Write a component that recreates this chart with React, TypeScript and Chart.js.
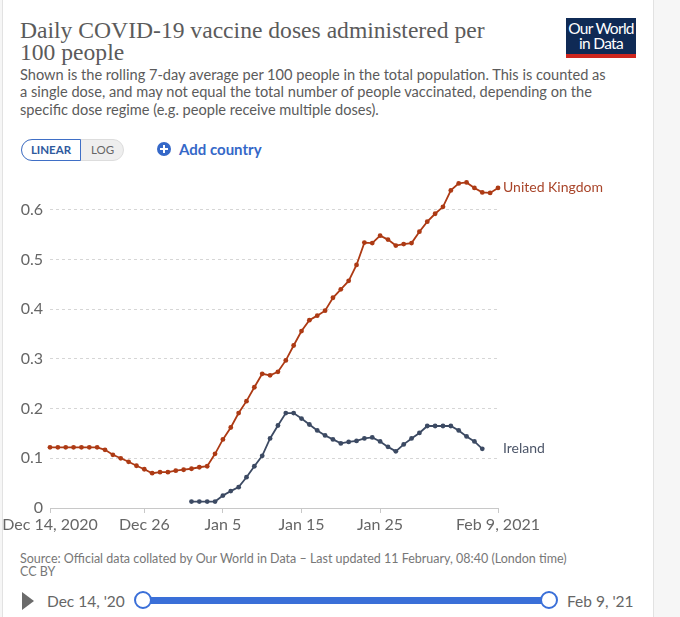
import React, { useEffect, useRef } from "react";
import { Chart, registerables } from "chart.js";

Chart.register(...registerables);

const dates = [
  "Dec 14", "Dec 15", "Dec 16", "Dec 17", "Dec 18", "Dec 19", "Dec 20", "Dec 21", "Dec 22", "Dec 23",
  "Dec 24", "Dec 25", "Dec 26", "Dec 27", "Dec 28", "Dec 29", "Dec 30", "Dec 31",
  "Jan 1", "Jan 2", "Jan 3", "Jan 4", "Jan 5", "Jan 6", "Jan 7", "Jan 8", "Jan 9", "Jan 10",
  "Jan 11", "Jan 12", "Jan 13", "Jan 14", "Jan 15", "Jan 16", "Jan 17", "Jan 18", "Jan 19", "Jan 20",
  "Jan 21", "Jan 22", "Jan 23", "Jan 24", "Jan 25", "Jan 26", "Jan 27", "Jan 28", "Jan 29", "Jan 30", "Jan 31",
  "Feb 1", "Feb 2", "Feb 3", "Feb 4", "Feb 5", "Feb 6", "Feb 7", "Feb 8", "Feb 9",
];

const ukValues = [
  0.122, 0.122, 0.122, 0.122, 0.122, 0.122, 0.122, 0.117, 0.107, 0.1,
  0.093, 0.085, 0.078, 0.07, 0.072, 0.072, 0.075, 0.077,
  0.079, 0.082, 0.084, 0.109, 0.138, 0.162, 0.191, 0.215, 0.243, 0.27,
  0.267, 0.274, 0.297, 0.327, 0.356, 0.378, 0.387, 0.397, 0.423, 0.44,
  0.457, 0.489, 0.534, 0.533, 0.548, 0.54, 0.528, 0.531, 0.533, 0.556, 0.576,
  0.592, 0.606, 0.639, 0.653, 0.655, 0.644, 0.635, 0.634, 0.644,
];

const irelandValues = [
  null, null, null, null, null, null, null, null, null, null,
  null, null, null, null, null, null, null, null,
  0.013, 0.013, 0.013, 0.013, 0.025, 0.034, 0.042, 0.062, 0.084, 0.105,
  0.14, 0.166, 0.191, 0.191, 0.18, 0.168, 0.156, 0.146, 0.138, 0.13,
  0.133, 0.135, 0.14, 0.142, 0.134, 0.123, 0.114, 0.128, 0.14, 0.151, 0.165,
  0.165, 0.165, 0.165, 0.156, 0.144, 0.134, 0.119, null, null,
];

const seriesNames = ["United Kingdom", "Ireland"];
const seriesColors = ["#ad3a14", "#3c4a63"];
const labelColors = ["#a9452a", "#4d5669"];

const xTickDates = ["Dec 14", "Dec 26", "Jan 5", "Jan 15", "Jan 25", "Feb 9"];
const xTickLabels = ["Dec 14, 2020", "Dec 26", "Jan 5", "Jan 15", "Jan 25", "Feb 9, 2021"];
const yTicks = [0, 0.1, 0.2, 0.3, 0.4, 0.5, 0.6];
const yTickLabels = ["0", "0.1", "0.2", "0.3", "0.4", "0.5", "0.6"];

const FONT = "Lato, 'Noto Sans', sans-serif";

const endLabels = {
  id: "endLabels",
  afterDatasetsDraw(chart: any) {
    const ctx = chart.ctx;
    const area = chart.chartArea;
    ctx.save();
    ctx.font = "14px " + FONT;
    ctx.textBaseline = "middle";
    ctx.textAlign = "left";
    chart.data.datasets.forEach((ds: any, i: number) => {
      const meta = chart.getDatasetMeta(i);
      let idx = -1;
      for (let k = ds.data.length - 1; k >= 0; k--) {
        if (ds.data[k] !== null) { idx = k; break; }
      }
      if (idx < 0) return;
      const pt = meta.data[idx];
      ctx.fillStyle = labelColors[i];
      ctx.fillText(seriesNames[i], area.right + 5, pt.y);
    });
    ctx.restore();
  },
};

function LineChart() {
  const ref = useRef<HTMLCanvasElement | null>(null);
  useEffect(() => {
    if (!ref.current) return;
    const chart = new Chart(ref.current, {
      type: "line",
      data: {
        labels: dates,
        datasets: [
          {
            label: seriesNames[0],
            data: ukValues,
            borderColor: seriesColors[0],
            backgroundColor: seriesColors[0],
            borderWidth: 1.8,
            pointRadius: 2.4,
            pointBorderWidth: 0,
            tension: 0,
          },
          {
            label: seriesNames[1],
            data: irelandValues,
            borderColor: seriesColors[1],
            backgroundColor: seriesColors[1],
            borderWidth: 1.8,
            pointRadius: 2.4,
            pointBorderWidth: 0,
            tension: 0,
            spanGaps: false,
          },
        ],
      },
      options: {
        animation: false,
        responsive: false,
        maintainAspectRatio: false,
        layout: { padding: { top: 5, right: 155, left: 0, bottom: 0 } },
        plugins: { legend: { display: false }, tooltip: { enabled: false } },
        scales: {
          x: {
            type: "category",
            offset: false,
            grid: {
              drawOnChartArea: false,
              drawTicks: true,
              tickLength: 5,
              tickColor: "#c8c8c8",
            },
            border: { display: true, color: "#c8c8c8", width: 1 },
            afterBuildTicks(scale: any) {
              scale.ticks = xTickDates.map((d) => ({ value: dates.indexOf(d) }));
            },
            ticks: {
              autoSkip: false,
              maxRotation: 0,
              padding: 2,
              color: "#666",
              font: { family: FONT, size: 16 },
              callback(value: any) {
                const d = dates[value as number];
                const k = xTickDates.indexOf(d);
                return k >= 0 ? xTickLabels[k] : "";
              },
            },
            afterFit(scale: any) {
              scale.height = 30;
              scale.paddingLeft = 0;
              scale.paddingRight = 0;
            },
          },
          y: {
            type: "linear",
            min: 0,
            max: 0.67,
            afterBuildTicks(scale: any) {
              scale.ticks = yTicks.map((v) => ({ value: v }));
            },
            grid: {
              drawTicks: false,
              color: (c: any) => (c.tick && c.tick.value === 0 ? "rgba(0,0,0,0)" : "#d6d6d6"),
              lineWidth: 1,
            },
            border: { display: false, dash: [3, 3] },
            ticks: {
              padding: 7,
              color: "#666",
              font: { family: FONT, size: 16 },
              callback(value: any) {
                const k = yTicks.indexOf(value as number);
                return k >= 0 ? yTickLabels[k] : "";
              },
            },
            afterFit(scale: any) {
              scale.width = 50;
              scale.paddingTop = 0;
              scale.paddingBottom = 0;
            },
          },
        },
      },
      plugins: [endLabels],
    });
    return () => chart.destroy();
  }, []);
  return <canvas ref={ref} width={653} height={368} style={{ position: "absolute", left: 0, top: 170, width: 653, height: 368 }} />;
}

export default function App() {
  return (
    <div style={{ position: "absolute", left: 0, top: 0, width: 680, height: 617, background: "#f6f6f6", overflow: "hidden", fontFamily: FONT }}>
      <div style={{ position: "absolute", left: 2, top: -2, width: 650, height: 640, background: "#fff", border: "1px solid #e2e2e2" }} />
      <div style={{ position: "absolute", left: 20, top: 19, width: 520, fontFamily: "'Liberation Serif', 'DejaVu Serif', serif", fontSize: 23.6, lineHeight: "22px", color: "#5b5b5b" }}>
        Daily COVID-19 vaccine doses administered per<br />100 people
      </div>
      <div style={{ position: "absolute", left: 566, top: 18, width: 70, height: 40, background: "#0f2a55", color: "#fff", textAlign: "center", fontSize: 15.5, lineHeight: "15px", paddingTop: 3, boxSizing: "border-box", letterSpacing: -0.7 }}>
        Our World<br />in Data
        <div style={{ position: "absolute", left: 0, bottom: 0, width: 70, height: 4, background: "#ce261e" }} />
      </div>
      <div style={{ position: "absolute", left: 20, top: 66, fontSize: 14.6, lineHeight: "17.4px", color: "#5b5b5b", whiteSpace: "nowrap" }}>
        Shown is the rolling 7-day average per 100 people in the total population. This is counted as<br />
        a single dose, and may not equal the total number of people vaccinated, depending on the<br />
        specific dose regime (e.g. people receive multiple doses).
      </div>
      <div style={{ position: "absolute", left: 21, top: 139, width: 103, height: 22, borderRadius: 11, background: "#eee", border: "1px solid #ddd", boxSizing: "border-box" }} />
      <div style={{ position: "absolute", left: 21, top: 139, width: 60, height: 22, borderRadius: "11px 0 0 11px", background: "#fff", border: "1.5px solid #3f6fc6", boxSizing: "border-box", color: "#2f5a9e", fontSize: 11.5, fontWeight: 700, lineHeight: "19px", textAlign: "center" }}>
        LINEAR
      </div>
      <div style={{ position: "absolute", left: 81, top: 139, width: 43, height: 22, color: "#666", fontSize: 11.5, lineHeight: "22px", textAlign: "center" }}>
        LOG
      </div>
      <div style={{ position: "absolute", left: 157, top: 142, width: 14, height: 14, borderRadius: 7, background: "#3568c8" }}>
        <div style={{ position: "absolute", left: 3, top: 6, width: 8, height: 2, background: "#fff" }} />
        <div style={{ position: "absolute", left: 6, top: 3, width: 2, height: 8, background: "#fff" }} />
      </div>
      <div style={{ position: "absolute", left: 179, top: 139, fontSize: 15, fontWeight: 700, lineHeight: "20px", color: "#3568c8" }}>
        Add country
      </div>
      <LineChart />
      <div style={{ position: "absolute", left: 20, top: 551.5, fontSize: 12.5, lineHeight: "13px", color: "#777", whiteSpace: "nowrap" }}>
        Source: Official data collated by Our World in Data – Last updated 11 February, 08:40 (London time)<br />CC BY
      </div>
      <div style={{ position: "absolute", left: 22, top: 592, width: 0, height: 0, borderTop: "9px solid transparent", borderBottom: "9px solid transparent", borderLeft: "12px solid #6b6b6b" }} />
      <div style={{ position: "absolute", left: 47, top: 591, fontSize: 15.5, lineHeight: "20px", color: "#666" }}>Dec 14, '20</div>
      <div style={{ position: "absolute", left: 143, top: 597, width: 406, height: 7, background: "#3a6fd8" }} />
      <div style={{ position: "absolute", left: 134, top: 591, width: 18, height: 18, borderRadius: 9, background: "#fff", border: "2px solid #3a6fd8", boxSizing: "border-box" }} />
      <div style={{ position: "absolute", left: 540, top: 591, width: 18, height: 18, borderRadius: 9, background: "#fff", border: "2px solid #3a6fd8", boxSizing: "border-box" }} />
      <div style={{ position: "absolute", left: 567, top: 591, fontSize: 15.5, lineHeight: "20px", color: "#666" }}>Feb 9, '21</div>
    </div>
  );
}
